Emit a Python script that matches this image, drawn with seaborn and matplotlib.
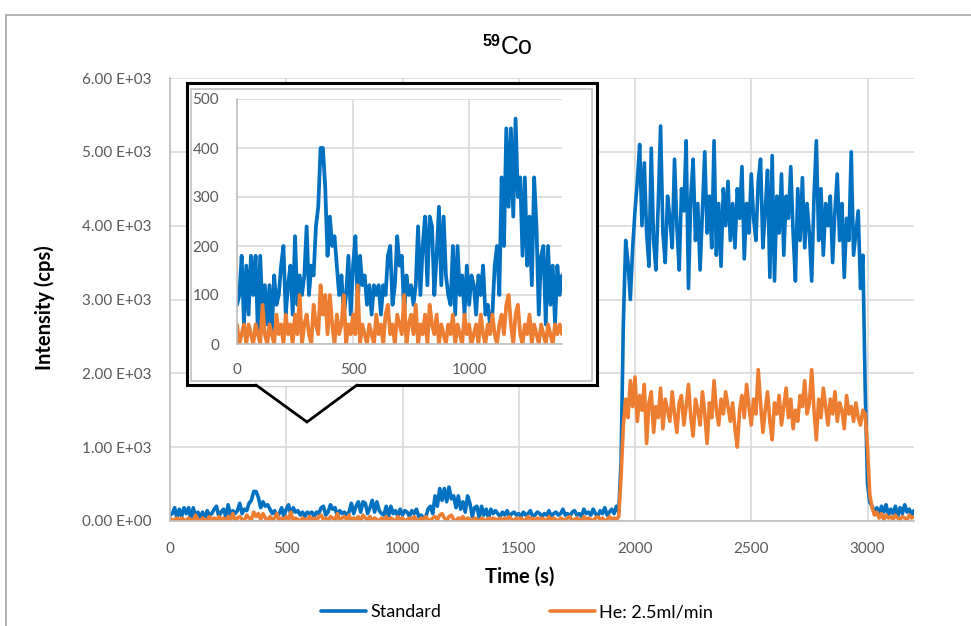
import numpy as np
import pandas as pd
import matplotlib
matplotlib.use("Agg")
import matplotlib.pyplot as plt
import seaborn as sns
from matplotlib.patches import Rectangle
from matplotlib.lines import Line2D
from matplotlib.ticker import FixedLocator, FixedFormatter

# ---------------- data ----------------
time_s = list(range(0, 3201, 10))

standard_cps = [
    80, 100, 180, 40, 160, 60, 180, 100, 180, 20,
    180, 60, 120, 40, 120, 20, 140, 80, 100, 160,
    200, 60, 120, 160, 60, 220, 80, 140, 100, 140,
    240, 100, 160, 140, 240, 280, 400, 400, 320, 180,
    260, 200, 220, 160, 100, 140, 60, 100, 180, 60,
    160, 220, 80, 180, 120, 140, 80, 120, 60, 120,
    100, 120, 60, 120, 100, 180, 200, 80, 120, 220,
    160, 180, 60, 140, 100, 120, 80, 120, 240, 100,
    200, 260, 120, 260, 240, 100, 180, 280, 120, 260,
    140, 100, 80, 200, 60, 200, 100, 140, 60, 160,
    80, 140, 120, 60, 140, 100, 160, 60, 80, 40,
    60, 160, 200, 100, 340, 200, 440, 280, 440, 260,
    460, 300, 340, 180, 340, 160, 260, 120, 340, 240,
    60, 180, 200, 40, 200, 80, 160, 40, 160, 100,
    140, 100, 60, 120, 80, 140, 60, 100, 120, 80,
    100, 60, 120, 80, 100, 140, 60, 80, 120, 100,
    60, 100, 80, 140, 60, 100, 120, 80, 100, 160,
    80, 100, 60, 120, 140, 80, 100, 60, 160, 100,
    120, 80, 160, 100, 60, 140, 100, 180, 80, 120,
    160, 100, 200, 120, 800, 2700, 3800, 3500, 3000, 3700,
    4200, 4600, 5100, 4000, 4850, 3900, 3450, 5050, 3800, 3400,
    4300, 5350, 3900, 3500, 4400, 4100, 3700, 4900, 4000, 3400,
    4500, 4200, 5150, 3150, 4400, 4900, 3800, 4300, 3400, 4200,
    5000, 3900, 4400, 3700, 5150, 3600, 4300, 3450, 4500, 4000,
    4600, 3800, 4300, 3700, 4500, 4100, 4800, 3550, 4300, 3900,
    4700, 4100, 3800, 4600, 4900, 3700, 4200, 4750, 3300, 4950,
    3250, 4400, 3900, 4700, 3600, 4400, 4100, 4800, 3900, 3250,
    4500, 3800, 4650, 3700, 4300, 3900, 3250, 4400, 5150, 3800,
    4500, 3600, 4300, 4000, 4400, 3500, 4200, 4700, 3800, 4300,
    3300, 4100, 3800, 5000, 3600, 3900, 4200, 3150, 3600, 1800,
    500, 250, 200, 100, 180, 80, 200, 120, 220, 80,
    160, 100, 200, 60, 180, 100, 220, 120, 160, 80,
    140,
]

helium_cps = [
    40, 0, 20, 40, 0, 40, 20, 0, 40, 20,
    0, 80, 20, 0, 40, 20, 0, 60, 20, 40,
    0, 60, 20, 40, 0, 60, 20, 100, 0, 40,
    60, 20, 0, 80, 40, 20, 120, 60, 100, 20,
    100, 40, 0, 60, 20, 40, 100, 0, 40, 20,
    60, 20, 120, 0, 40, 20, 0, 40, 20, 0,
    60, 20, 40, 0, 60, 80, 20, 40, 0, 60,
    40, 20, 100, 0, 40, 60, 20, 80, 0, 40,
    20, 60, 0, 80, 40, 20, 60, 0, 40, 20,
    0, 40, 20, 60, 0, 40, 20, 0, 60, 20,
    40, 0, 20, 40, 0, 60, 20, 0, 40, 20,
    60, 20, 0, 40, 60, 20, 80, 100, 40, 0,
    60, 80, 20, 0, 40, 20, 60, 0, 40, 20,
    0, 40, 20, 0, 40, 20, 0, 40, 20, 40,
    20, 20, 40, 0, 40, 20, 60, 20, 0, 40,
    20, 40, 0, 20, 60, 20, 40, 0, 40, 20,
    40, 20, 0, 60, 20, 40, 20, 0, 40, 20,
    20, 40, 60, 0, 20, 40, 20, 0, 60, 20,
    40, 20, 0, 40, 60, 20, 40, 0, 20, 60,
    20, 40, 20, 60, 600, 1300, 1650, 1400, 1900, 1550,
    1950, 1350, 1700, 1500, 1850, 1050, 1600, 1750, 1200, 1550,
    1400, 1800, 1250, 1650, 1500, 1350, 1750, 1450, 1200, 1600,
    1700, 1300, 1550, 1850, 1400, 1150, 1650, 1500, 1300, 1750,
    1450, 1050, 1600, 1400, 1900, 1500, 1300, 1650, 1450, 1750,
    1550, 1350, 1600, 1250, 1000, 1500, 1700, 1400, 1850, 1550,
    1300, 1650, 1450, 2050, 1600, 1200, 1500, 1750, 1350, 1100,
    1600, 1450, 1700, 1300, 1550, 1800, 1400, 1650, 1250, 1500,
    1350, 1700, 1550, 1900, 1450, 1600, 2050, 1500, 1100, 1650,
    1400, 1800, 1550, 1300, 1650, 1450, 1750, 1350, 1600, 1500,
    1250, 1700, 1450, 1550, 1350, 1600, 1400, 1300, 1500, 1450,
    1000, 350, 180, 80, 120, 40, 100, 20, 80, 40,
    60, 20, 80, 40, 20, 60, 40, 20, 80, 40,
    60,
]

series_names = ["Standard", "He: 2.5ml/min"]
series_colors = ["#0070C0", "#ED7D31"]

main_xticks = [0, 500, 1000, 1500, 2000, 2500, 3000]
main_yticks = [0, 1000, 2000, 3000, 4000, 5000, 6000]
main_ytick_labels = ["0.00 E+00", "1.00 E+03", "2.00 E+03", "3.00 E+03",
                     "4.00 E+03", "5.00 E+03", "6.00 E+03"]
inset_xticks = [0, 500, 1000]
inset_yticks = [0, 100, 200, 300, 400, 500]

assert len(standard_cps) == len(time_s) and len(helium_cps) == len(time_s)

df = pd.DataFrame({
    "Time": time_s + time_s,
    "Intensity": standard_cps + helium_cps,
    "Series": [series_names[0]] * len(time_s) + [series_names[1]] * len(time_s),
})

# ---------------- style ----------------
sns.set_theme(style="white")
plt.rcParams["font.family"] = ["Lato", "DejaVu Sans"]

W, H = 971, 626
fig = plt.figure(figsize=(W / 100, H / 100), dpi=100)
fig.patch.set_facecolor("white")

def fx(px):
    return px / W

def fy(py):
    return 1 - py / H

GRID = "#d9d9d9"
AXC = "#bfbfbf"
TXT = "#595959"

# outer chart frame (clipped by the image edge)
fig.add_artist(Rectangle((fx(5.5), -0.2), 1.2, fy(15) + 0.2, transform=fig.transFigure,
                         fill=False, edgecolor="#a6a6a6", lw=1.2, zorder=0.5))

# ---------------- main axes ----------------
ax = fig.add_axes([fx(170), fy(521), fx(914) - fx(170), fy(78) - fy(521)])
ax.set_zorder(1)
sns.lineplot(data=df, x="Time", y="Intensity", hue="Series", hue_order=series_names,
             palette=series_colors, lw=2.6, ax=ax, sort=False, estimator=None, errorbar=None)
handles, labels = ax.get_legend_handles_labels()
ax.get_legend().remove()

ax.set_xlim(0, 3200)
ax.set_ylim(0, 6000)
ax.xaxis.set_major_locator(FixedLocator(main_xticks))
ax.yaxis.set_major_locator(FixedLocator(main_yticks))
ax.yaxis.set_major_formatter(FixedFormatter(main_ytick_labels))
ax.grid(True, color=GRID, lw=1.2)
ax.set_axisbelow(True)
for s in ["top", "right"]:
    ax.spines[s].set_visible(False)
for s in ["left", "bottom"]:
    ax.spines[s].set_color(AXC)
    ax.spines[s].set_linewidth(1.2)
ax.tick_params(axis="both", which="both", direction="out", length=4, width=1.0,
               color=AXC, labelcolor=TXT, labelsize=11)
ax.tick_params(axis="y", pad=9)
ax.tick_params(axis="x", pad=11)
ax.set_xlabel("")
ax.set_ylabel("")

fig.text(fx(45), fy(308), "Intensity (cps)", rotation=90, ha="center", va="center",
         fontsize=14.5, fontweight="bold", color="black")
fig.text(fx(520), fy(577), "Time (s)", ha="center", va="center",
         fontsize=14.5, fontweight="bold", color="black")

# title: superscript 59 + Co
fig.text(fx(501), fy(47), "Co", ha="left", va="center", fontsize=18,
         family=["Liberation Sans", "DejaVu Sans"], color="black")
fig.text(fx(500), fy(41), "59", ha="right", va="center", fontsize=11.5, fontweight="bold",
         family=["Liberation Sans", "DejaVu Sans"], color="black")

# legend
fig.legend(handles, labels, loc="center", bbox_to_anchor=(fx(517), fy(612)), ncol=2,
           frameon=False, handlelength=2.5, handletextpad=0.25, columnspacing=6.0,
           fontsize=13, labelcolor="black")

# ---------------- callout box ----------------
fig.add_artist(Rectangle((fx(186.5), fy(385)), fx(596.5) - fx(186.5), fy(83.5) - fy(385),
                         transform=fig.transFigure, facecolor="white", edgecolor="black",
                         lw=2.2, zorder=2))
fig.add_artist(Rectangle((fx(191), fy(381)), fx(592) - fx(191), fy(88.5) - fy(381),
                         transform=fig.transFigure, fill=False, edgecolor="#bdbdbd",
                         lw=1.1, zorder=2.1))
fig.add_artist(Line2D([fx(256), fx(307), fx(357)], [fy(385), fy(422), fy(385)],
                      transform=fig.transFigure, color="black", lw=2.0, zorder=2.2,
                      solid_joinstyle="miter"))
fig.add_artist(Line2D([fx(258), fx(355)], [fy(385), fy(385)],
                      transform=fig.transFigure, color="white", lw=2.6, zorder=2.15))

# ---------------- inset axes ----------------
axi = fig.add_axes([fx(237), fy(344), fx(562) - fx(237), fy(99) - fy(344)])
axi.set_zorder(3)
axi.patch.set_alpha(0)
sns.lineplot(data=df, x="Time", y="Intensity", hue="Series", hue_order=series_names,
             palette=series_colors, lw=2.7, ax=axi, sort=False, estimator=None,
             errorbar=None, legend=False)
axi.set_xlim(0, 1400)
axi.set_ylim(0, 500)
axi.xaxis.set_major_locator(FixedLocator(inset_xticks))
axi.yaxis.set_major_locator(FixedLocator(inset_yticks))
axi.grid(True, color=GRID, lw=1.2)
axi.set_axisbelow(True)
for s in ["top", "right"]:
    axi.spines[s].set_visible(False)
for s in ["left", "bottom"]:
    axi.spines[s].set_color(AXC)
    axi.spines[s].set_linewidth(1.2)
axi.tick_params(axis="both", direction="out", length=4, width=1.0, color=AXC,
                labelcolor=TXT, labelsize=11)
axi.tick_params(axis="y", pad=9)
axi.tick_params(axis="x", pad=10)
axi.set_xlabel("")
axi.set_ylabel("")

fig.savefig("out.png", dpi=100)
